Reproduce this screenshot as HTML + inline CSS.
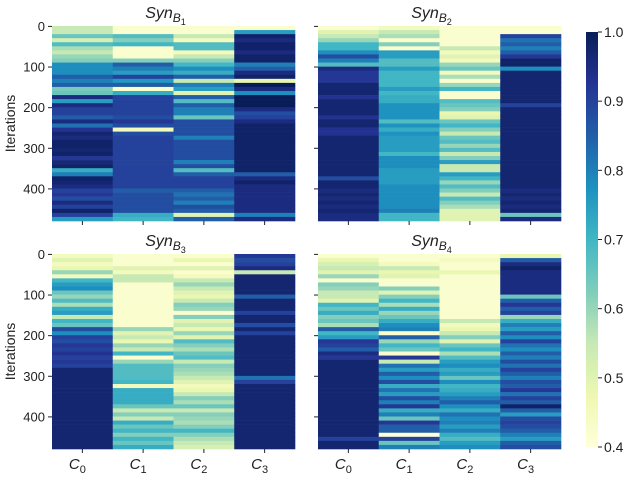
<!DOCTYPE html>
<html><head><meta charset="utf-8"><style>
body{margin:0;background:#fff;width:634px;height:478px;overflow:hidden}
svg text{font-family:"Liberation Sans","DejaVu Sans",sans-serif;fill:#222}
</style></head><body>
<svg id="fig" width="634" height="478" xmlns="http://www.w3.org/2000/svg">
<defs><linearGradient id="cb" x1="0" y1="1" x2="0" y2="0">
<stop offset="0" stop-color="#ffffd9"/><stop offset="0.125" stop-color="#edf8b1"/><stop offset="0.25" stop-color="#c7e9b4"/><stop offset="0.375" stop-color="#7fcdbb"/><stop offset="0.5" stop-color="#41b6c4"/><stop offset="0.625" stop-color="#1d91c0"/><stop offset="0.75" stop-color="#225ea8"/><stop offset="0.875" stop-color="#253494"/><stop offset="1" stop-color="#081d58"/></linearGradient></defs>
</svg>
<script>
const columns=["C0","C1","C2","C3"];
const yTicks=[0,100,200,300,400];
const cbTicks=[0.4,0.5,0.6,0.7,0.8,0.9,1.0];
const vmin=0.4, vmax=1.0, nIter=480;
const synB1=[
[0.55,0.55,0.65,0.52,0.68,0.58,0.55,0.6,0.62,0.78,0.78,0.78,0.85,0.8,0.85,0.63,0.65,0.95,0.75,0.95,0.9,0.9,0.85,0.95,0.82,0.93,0.97,0.95,0.98,0.98,0.97,0.98,0.92,0.96,0.98,0.72,0.8,0.98,0.97,0.95,0.9,0.92,0.88,0.95,0.9,0.98,0.9,0.75],
[0.42,0.42,0.68,0.62,0.7,0.42,0.42,0.42,0.62,0.85,0.8,0.75,0.9,0.76,0.85,0.42,0.72,0.9,0.9,0.9,0.9,0.9,0.88,0.92,0.88,0.45,0.88,0.9,0.9,0.9,0.9,0.9,0.9,0.9,0.9,0.9,0.9,0.9,0.9,0.9,0.85,0.88,0.88,0.88,0.88,0.88,0.72,0.7],
[0.42,0.42,0.55,0.45,0.68,0.68,0.45,0.55,0.62,0.7,0.78,0.72,0.85,0.55,0.8,0.75,0.5,0.85,0.68,0.85,0.8,0.8,0.65,0.88,0.88,0.88,0.88,0.8,0.88,0.88,0.88,0.88,0.88,0.8,0.88,0.68,0.85,0.9,0.9,0.9,0.85,0.82,0.85,0.8,0.88,0.85,0.5,0.85],
[0.42,0.75,0.98,0.95,0.98,0.98,0.95,0.98,0.98,0.8,0.85,0.95,0.98,0.48,1.0,0.95,0.78,1.0,1.0,1.0,0.95,0.88,0.9,0.95,0.98,0.98,0.98,0.98,0.98,0.98,0.98,0.98,0.98,0.98,0.98,0.98,0.85,0.95,0.98,0.95,0.95,0.95,0.95,0.95,0.95,0.95,0.8,0.95]];
const synB2=[
[0.42,0.5,0.55,0.6,0.7,0.7,0.78,0.88,0.8,0.68,0.95,0.92,0.92,0.92,0.97,0.97,0.97,0.93,0.97,0.97,0.97,0.97,0.93,0.97,0.97,0.93,0.93,0.97,0.97,0.97,0.97,0.97,0.97,0.97,0.97,0.97,0.97,0.88,0.97,0.97,0.95,0.97,0.95,0.97,0.95,0.97,0.95,0.95],
[0.45,0.55,0.58,0.42,0.62,0.42,0.75,0.75,0.68,0.68,0.75,0.7,0.7,0.7,0.7,0.75,0.7,0.72,0.72,0.77,0.77,0.77,0.77,0.68,0.77,0.72,0.77,0.75,0.75,0.75,0.75,0.7,0.78,0.78,0.78,0.75,0.75,0.75,0.75,0.78,0.78,0.78,0.78,0.78,0.78,0.8,0.7,0.7],
[0.42,0.42,0.42,0.42,0.42,0.55,0.45,0.5,0.45,0.6,0.65,0.45,0.58,0.42,0.6,0.7,0.42,0.42,0.68,0.65,0.62,0.48,0.5,0.65,0.7,0.62,0.55,0.65,0.68,0.6,0.68,0.55,0.62,0.75,0.55,0.55,0.75,0.7,0.6,0.68,0.62,0.55,0.68,0.62,0.58,0.5,0.5,0.5],
[0.42,0.42,0.9,0.82,0.85,0.8,0.85,0.92,0.98,0.98,0.78,0.97,0.97,0.97,0.97,0.97,0.97,0.97,0.97,0.9,0.97,0.97,0.97,0.97,0.97,0.97,0.97,0.97,0.97,0.97,0.97,0.97,0.97,0.97,0.97,0.97,0.97,0.97,0.97,0.97,0.95,0.97,0.95,0.97,0.95,0.97,0.65,0.95]];
const synB3=[
[0.45,0.5,0.45,0.48,0.6,0.45,0.7,0.75,0.78,0.65,0.6,0.68,0.58,0.72,0.75,0.55,0.7,0.65,0.88,0.78,0.9,0.88,0.92,0.9,0.93,0.9,0.92,0.9,0.97,0.97,0.97,0.97,0.97,0.97,0.97,0.97,0.97,0.97,0.97,0.97,0.97,0.97,0.97,0.97,0.97,0.97,0.97,0.97],
[0.42,0.42,0.42,0.5,0.45,0.55,0.55,0.42,0.42,0.42,0.42,0.42,0.42,0.42,0.42,0.42,0.42,0.42,0.6,0.5,0.55,0.48,0.6,0.55,0.7,0.42,0.6,0.68,0.68,0.68,0.68,0.7,0.45,0.72,0.72,0.72,0.72,0.65,0.55,0.62,0.55,0.72,0.65,0.7,0.62,0.7,0.65,0.72],
[0.42,0.48,0.42,0.5,0.42,0.45,0.55,0.6,0.55,0.5,0.48,0.55,0.62,0.6,0.42,0.62,0.5,0.55,0.48,0.6,0.5,0.68,0.62,0.58,0.65,0.68,0.55,0.62,0.6,0.58,0.55,0.5,0.45,0.48,0.55,0.62,0.58,0.65,0.55,0.62,0.6,0.58,0.62,0.7,0.62,0.58,0.55,0.52],
[0.92,0.88,0.9,0.95,0.55,0.97,0.97,0.97,0.97,0.97,0.85,0.97,0.97,0.97,0.9,0.97,0.97,0.88,0.97,0.9,0.97,0.97,0.97,0.97,0.97,0.97,0.97,0.97,0.97,0.97,0.82,0.9,0.97,0.97,0.97,0.97,0.97,0.97,0.97,0.97,0.97,0.97,0.97,0.97,0.97,0.97,0.97,0.97]];
const synB4=[
[0.42,0.48,0.52,0.55,0.5,0.6,0.42,0.62,0.6,0.55,0.55,0.5,0.7,0.65,0.72,0.62,0.65,0.58,0.85,0.7,0.75,0.92,0.9,0.85,0.95,0.92,0.97,0.97,0.97,0.97,0.97,0.97,0.97,0.97,0.97,0.97,0.97,0.97,0.97,0.97,0.97,0.97,0.97,0.97,0.97,0.9,0.97,0.97],
[0.42,0.42,0.45,0.55,0.48,0.5,0.42,0.42,0.62,0.5,0.62,0.7,0.58,0.72,0.6,0.65,0.72,0.78,0.8,0.42,0.85,0.6,0.7,0.65,0.42,0.92,0.55,0.82,0.75,0.85,0.78,0.88,0.72,0.82,0.75,0.88,0.8,0.92,0.72,0.8,0.65,0.92,0.85,0.85,0.4,0.9,0.65,0.8],
[0.42,0.45,0.42,0.42,0.48,0.42,0.42,0.42,0.42,0.42,0.42,0.42,0.42,0.42,0.42,0.42,0.55,0.45,0.48,0.55,0.62,0.5,0.65,0.7,0.58,0.68,0.75,0.78,0.72,0.75,0.65,0.78,0.7,0.72,0.75,0.8,0.85,0.78,0.72,0.82,0.78,0.8,0.75,0.8,0.72,0.68,0.75,0.78],
[0.48,0.85,0.95,0.98,0.95,0.95,0.95,0.95,0.95,0.95,0.65,0.85,0.92,0.85,0.9,0.6,0.72,0.8,0.75,0.85,0.78,0.9,0.82,0.78,0.85,0.8,0.88,0.82,0.9,0.85,0.8,0.88,0.85,0.92,0.82,0.9,0.85,0.98,0.85,0.75,0.88,0.9,0.88,0.85,0.8,0.75,0.85,0.88]];
const panelData=[synB1,synB2,synB3,synB4];
const panelTitles=["1","2","3","4"];

const stops=["#ffffd9","#edf8b1","#c7e9b4","#7fcdbb","#41b6c4","#1d91c0","#225ea8","#253494","#081d58"];
function hex(c){return [1,3,5].map(i=>parseInt(c.substr(i,2),16));}
function color(v){let t=Math.max(0,Math.min(1,(v-vmin)/(vmax-vmin)))*(stops.length-1);let i=Math.min(stops.length-2,Math.floor(t)),f=t-i;const a=hex(stops[i]),b=hex(stops[i+1]);return "rgb("+a.map((x,k)=>Math.round(x+(b[k]-x)*f)).join(",")+")";}
const NS="http://www.w3.org/2000/svg";const svg=document.getElementById("fig");
function mk(tag,attrs,parent){const e=document.createElementNS(NS,tag);for(const k in attrs)e.setAttribute(k,attrs[k]);(parent||svg).appendChild(e);return e;}
const panels=[{x:52,y:26,w:243,h:195},{x:318,y:26,w:243,h:195},{x:52,y:254,w:243,h:195},{x:318,y:254,w:243,h:195}];
panels.forEach((p,pi)=>{
  const g=mk("g",{});
  
  
  const data=panelData[pi];
  const colW=p.w/columns.length;
  const xS=c=>p.x+c*colW;
  const yS=it=>p.y+it*p.h/nIter;
  data.forEach((col,ci)=>{
    const step=nIter/col.length;
    col.forEach((v,ri)=>{
      const r=mk("rect",{x:xS(ci),y:yS(ri*step),width:colW+0.3,height:p.h/col.length+0.3,fill:color(v)},g);
      
      
    });
  });
  yTicks.forEach(t=>{
    const yy=yS(t+1);
    mk("line",{x1:p.x-4,x2:p.x,y1:yy,y2:yy,stroke:"#222","stroke-width":1},g);
    if(pi%2===0){const tx=mk("text",{x:p.x-7,y:yy+4.5,"text-anchor":"end","font-size":13},g);tx.textContent=t;
      
      }
  });
  columns.forEach((c,ci)=>{
    const xx=xS(ci)+colW/2;
    mk("line",{x1:xx,x2:xx,y1:p.y+p.h,y2:p.y+p.h+4,stroke:"#222","stroke-width":1},g);
    if(pi>=2){const tx=mk("text",{x:xx-5,y:p.y+p.h+20,"text-anchor":"middle","font-size":15,"font-style":"italic"},g);
      tx.innerHTML=c[0]+'<tspan font-size="11" dy="4" font-style="normal">'+c.slice(1)+'</tspan>';
      
      }
  });
  const tt=mk("text",{x:p.x+p.w/2-8,y:p.y-8,"text-anchor":"middle","font-size":16,"font-style":"italic"},g);
  tt.innerHTML='Syn<tspan font-size="12" dy="4">B</tspan><tspan font-size="9" dy="3" font-style="normal">'+panelTitles[pi]+'</tspan>';
  
  
  if(pi%2===0){const yl=mk("text",{x:0,y:0,"text-anchor":"middle","font-size":14,transform:"translate(15,"+(p.y+p.h/2)+") rotate(-90)"},g);yl.textContent="Iterations";
    
    }
});
const cb={x:586,y:32,w:12,h:415};
const cbg=mk("g",{});


mk("rect",{x:cb.x,y:cb.y,width:cb.w,height:cb.h,fill:"url(#cb)"},cbg);
const cbY=v=>cb.y+cb.h*(vmax-v)/(vmax-vmin);
cbTicks.forEach(t=>{const yy=cbY(t);
  mk("line",{x1:cb.x+cb.w,x2:cb.x+cb.w+4,y1:yy,y2:yy,stroke:"#222"},cbg);
  const tx=mk("text",{x:cb.x+cb.w+6,y:yy+5,"font-size":14},cbg);tx.textContent=t.toFixed(1);
  
  
});
</script>
</body></html>
